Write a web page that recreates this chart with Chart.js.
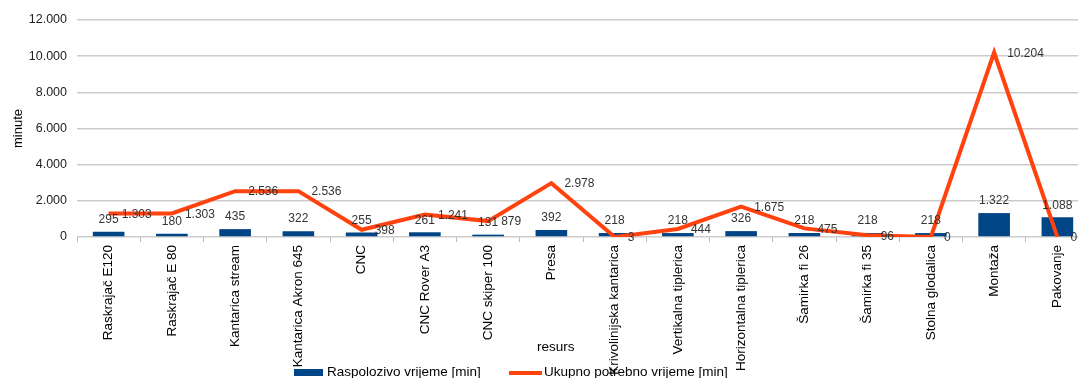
<!DOCTYPE html>
<html>
<head>
<meta charset="utf-8">
<script src="https://cdn.jsdelivr.net/npm/chart.js@4/dist/chart.umd.min.js"></script>
<style>
  html, body { margin: 0; padding: 0; background: #fff; overflow: hidden; }
  #wrap { position: relative; width: 1078px; height: 378px; overflow: hidden; }
  #c { position: absolute; left: 0; top: 0; }
  .ov { position: absolute; font-family: "Liberation Sans", Arial, sans-serif; color: #000; white-space: nowrap; }
</style>
</head>
<body>
<div id="wrap">
  <canvas id="c" width="1090" height="378"></canvas>
  <div class="ov" style="left:537px; top:339px; font-size:13.5px;">resurs</div>
  <div class="ov" style="left:294px; top:369px; width:29px; height:7px; background:#004586;"></div>
  <div class="ov" style="left:327px; top:364px; font-size:13.5px;">Raspolozivo vrijeme [min]</div>
  <div class="ov" style="left:509px; top:371px; width:33px; height:4px; background:#ff420e;"></div>
  <div class="ov" style="left:544px; top:364px; font-size:13.5px;">Ukupno potrebno vrijeme [min]</div>
</div>
<script>
const categories = [
  "Raskrajač E120", "Raskrajač E 80", "Kantarica stream", "Kantarica Akron 645",
  "CNC", "CNC Rover A3", "CNC skiper 100", "Presa", "Krivolinijska kantarica",
  "Vertikalna tiplerica", "Horizontalna tiplerica", "Šamirka fi 26", "Šamirka fi 35",
  "Stolna glodalica", "Montaža", "Pakovanje"
];
const raspolozivo = [295, 180, 435, 322, 255, 261, 131, 392, 218, 218, 326, 218, 218, 218, 1322, 1088];
const ukupno = [1303, 1303, 2536, 2536, 398, 1241, 879, 2978, 3, 444, 1675, 475, 96, 0, 10204, 0];
const yTicks = [0, 2000, 4000, 6000, 8000, 10000, 12000];
const seriesNames = ["Raspolozivo vrijeme [min]", "Ukupno potrebno vrijeme [min]"];

const FONT = "'Liberation Sans', Arial, sans-serif";
function fmt(v) {
  return String(Math.round(v)).replace(/\B(?=(\d{3})+(?!\d))/g, ".");
}

const labelPlugin = {
  id: 'valueLabels',
  afterDatasetsDraw(chart) {
    const ctx = chart.ctx;
    ctx.save();
    ctx.font = "12px " + FONT;
    ctx.fillStyle = "#333333";
    chart.data.datasets.forEach((ds, di) => {
      const meta = chart.getDatasetMeta(di);
      meta.data.forEach((el, i) => {
        const t = fmt(ds.data[i]);
        if (ds.type === 'bar') {
          ctx.textAlign = 'center';
          ctx.textBaseline = 'bottom';
          ctx.fillText(t, el.x, el.y - 6);
        } else {
          ctx.textAlign = 'left';
          ctx.textBaseline = 'middle';
          ctx.fillText(t, el.x + 13, el.y + 1);
        }
      });
    });
    ctx.restore();
  }
};

new Chart(document.getElementById('c'), {
  data: {
    labels: categories,
    datasets: [
      {
        type: 'line',
        label: seriesNames[1],
        data: ukupno,
        borderColor: '#ff420e',
        backgroundColor: '#ff420e',
        borderWidth: 4,
        pointRadius: 0,
        tension: 0,
        order: 0
      },
      {
        type: 'bar',
        label: seriesNames[0],
        data: raspolozivo,
        backgroundColor: '#004586',
        borderWidth: 0,
        barPercentage: 0.5,
        categoryPercentage: 1.0,
        order: 1
      }
    ]
  },
  options: {
    responsive: false,
    animation: false,
    events: [],
    layout: { padding: { top: 20, right: 1, bottom: 0, left: 11 } },
    plugins: {
      legend: { display: false },
      tooltip: { enabled: false }
    },
    scales: {
      x: {
        offset: true,
        afterFit(scale) { scale.height = 141; },
        grid: { display: true, drawOnChartArea: false, drawTicks: true, tickLength: 5, color: '#bbbbbb', offset: true },
        border: { display: false },
        ticks: {
          autoSkip: false,
          minRotation: 90,
          maxRotation: 90,
          padding: 3,
          color: '#000000',
          font: { family: FONT, size: 13.5 }
        }
      },
      y: {
        min: 0,
        max: 12000,
        afterFit(scale) { scale.width = 66; },
        afterBuildTicks(scale) { scale.ticks = yTicks.map(v => ({ value: v })); },
        title: { display: true, text: 'minute', color: '#000', font: { family: FONT, size: 13 }, padding: 0 },
        grid: { color: '#cccccc', lineWidth: 1.5, drawTicks: false },
        border: { display: false },
        ticks: {
          padding: 10,
          color: '#222222',
          font: { family: FONT, size: 12.5 },
          callback: (v) => fmt(v)
        }
      }
    }
  },
  plugins: [labelPlugin]
});
</script>
</body>
</html>
